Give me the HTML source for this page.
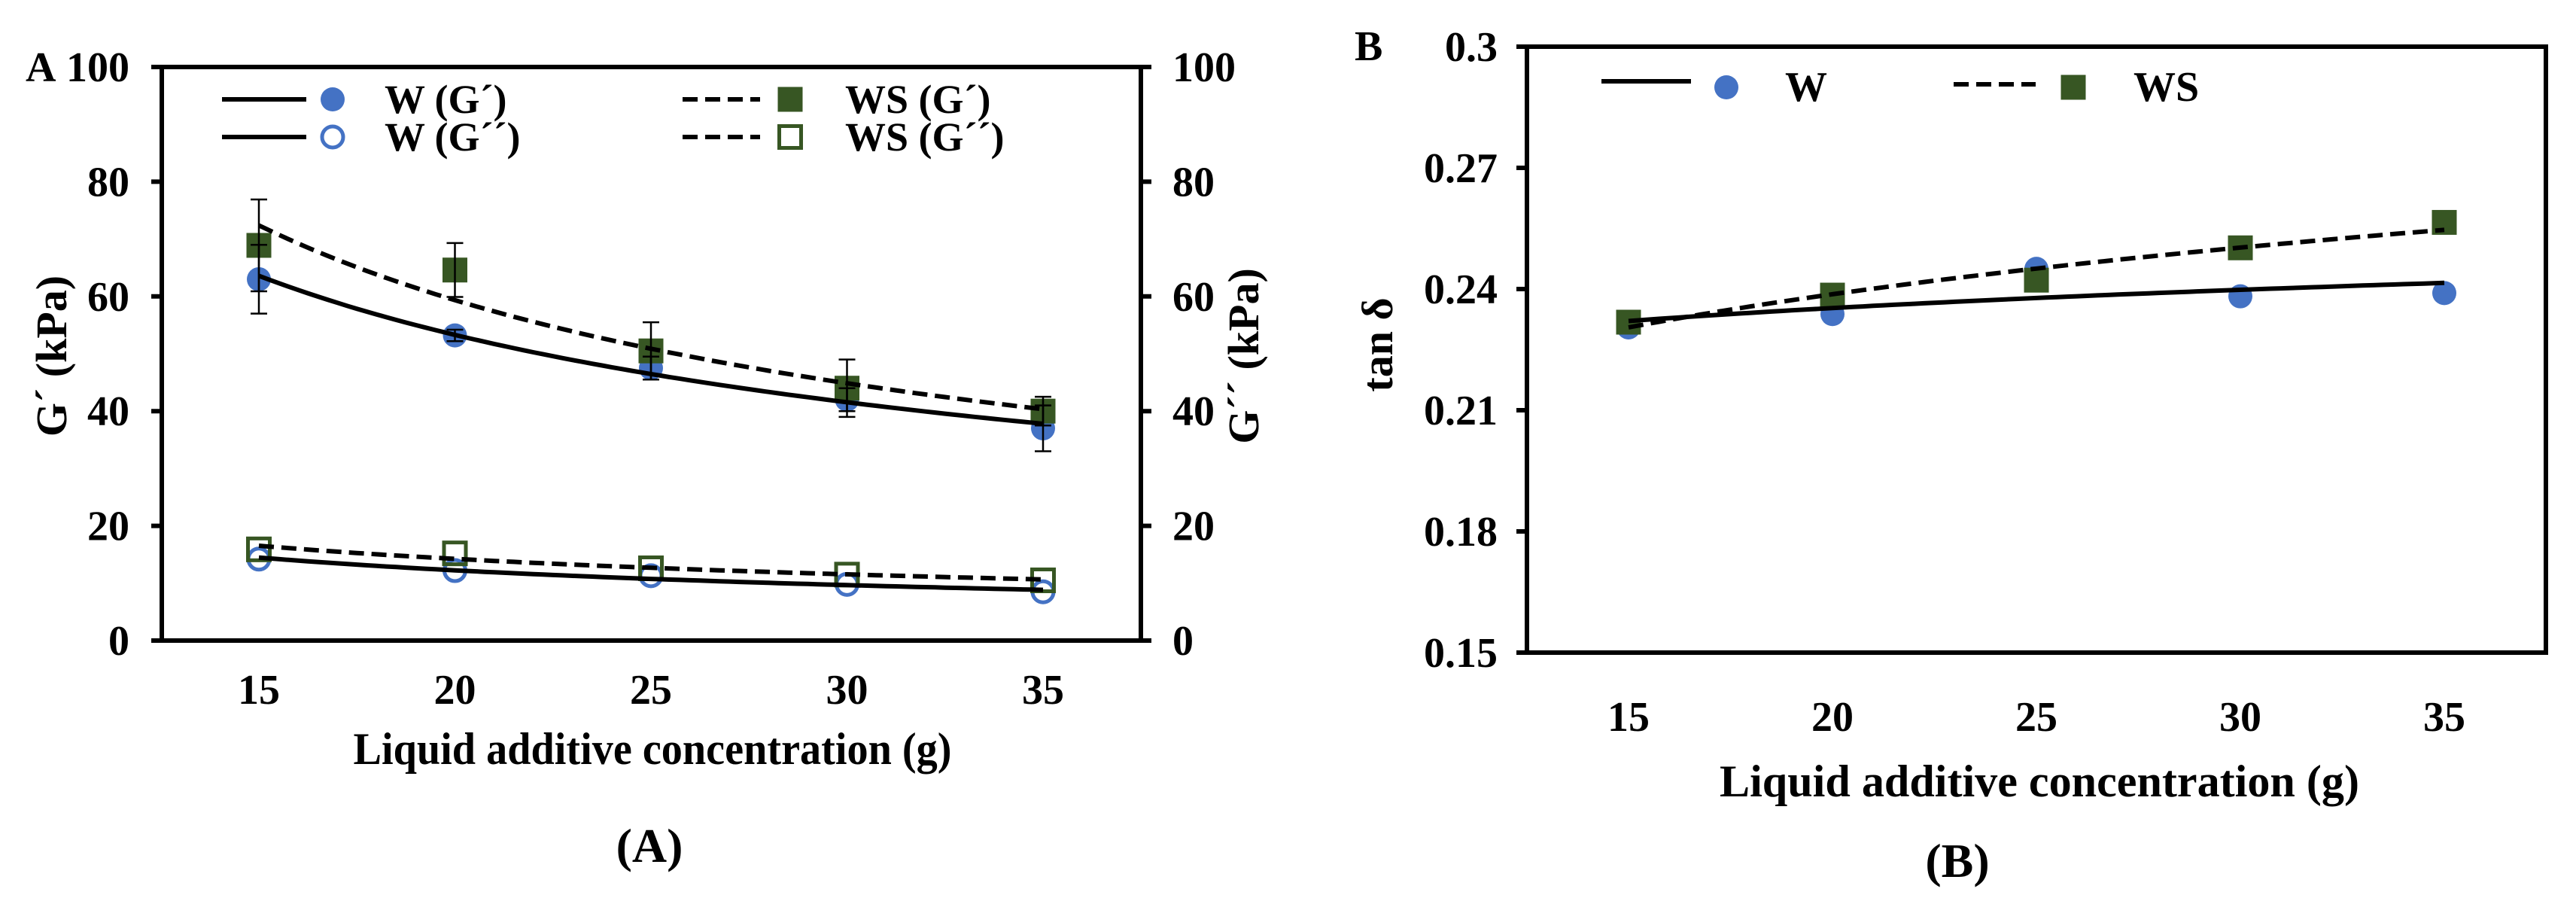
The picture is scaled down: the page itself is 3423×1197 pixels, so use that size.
<!DOCTYPE html>
<html><head><meta charset="utf-8"><style>
html,body{margin:0;padding:0;background:#fff;}
svg{display:block;font-family:"Liberation Serif",serif;font-weight:bold;}
</style></head><body>
<svg id="fig" width="3423" height="1197" viewBox="0 0 3423 1197" xmlns="http://www.w3.org/2000/svg">
<g id="chartA"></g>
<g id="chartB"></g>
</svg>
<script>
// ---------- Chart A data ----------
const xCats = [15, 20, 25, 30, 35];
const aTicks = [0, 20, 40, 60, 80, 100];
const wG1 = [63, 53.2, 47.5, 42, 37];
const wG1Err = [6, 1, 2, 2, 4];
const wsG1 = [68.9, 64.6, 50.5, 44, 40];
const wsG1Err = [8, 4.7, 5, 5, 2.5];
const wG2 = [14.2, 12.2, 11.3, 9.8, 8.5];
const wsG2 = [15.9, 15.2, 12.6, 11.5, 10.5];
// ---------- Chart B data ----------
const bTicks = [0.15, 0.18, 0.21, 0.24, 0.27, 0.3];
const bTickLabels = ["0.15", "0.18", "0.21", "0.24", "0.27", "0.3"];
const wTan = [0.2305, 0.2338, 0.245, 0.2382, 0.239];
const wsTan = [0.2318, 0.2385, 0.2422, 0.2502, 0.2565];

const NS = "http://www.w3.org/2000/svg";
function mk(parent, tag, attrs, text) {
  const e = document.createElementNS(NS, tag);
  for (const k in attrs) e.setAttribute(k, attrs[k]);
  if (text !== undefined) e.textContent = text;
  parent.appendChild(e);
  return e;
}
function powerFit(xs, ys) {
  const lx = xs.map(Math.log), ly = ys.map(Math.log), n = xs.length;
  const mx = lx.reduce((a, b) => a + b) / n, my = ly.reduce((a, b) => a + b) / n;
  let sxy = 0, sxx = 0;
  for (let i = 0; i < n; i++) { sxy += (lx[i] - mx) * (ly[i] - my); sxx += (lx[i] - mx) ** 2; }
  const b = sxy / sxx, a = Math.exp(my - b * mx);
  return x => a * Math.pow(x, b);
}
function logFit(xs, ys) {
  const lx = xs.map(Math.log), n = xs.length;
  const mx = lx.reduce((a, b) => a + b) / n, my = ys.reduce((a, b) => a + b) / n;
  let sxy = 0, sxx = 0;
  for (let i = 0; i < n; i++) { sxy += (lx[i] - mx) * (ys[i] - my); sxx += (lx[i] - mx) ** 2; }
  const b = sxy / sxx, a = my - b * mx;
  return x => a + b * Math.log(x);
}
function curve(g, f, xS, yS, dashed, name) {
  let d = "";
  for (let i = 0; i <= 80; i++) {
    const x = 15 + 20 * i / 80;
    d += (i ? "L" : "M") + xS(x).toFixed(1) + "," + yS(f(x)).toFixed(1);
  }
  const p = mk(g, "path", {d, fill: "none", stroke: "#000", "stroke-width": 6, "stroke-dasharray": dashed ? "20,10" : "none"});
  
  
}
function circle(g, cx, cy, filled, name) {
  const c = mk(g, "circle", {cx, cy, r: filled ? 16 : 14, fill: filled ? "#4472c4" : "none", stroke: "#4472c4", "stroke-width": filled ? 0 : 5});
  
  
}
function square(g, cx, cy, filled, name) {
  const s = filled ? 33 : 29;
  const r = mk(g, "rect", {x: cx - s / 2, y: cy - s / 2, width: s, height: s, fill: filled ? "#375623" : "none", stroke: "#375623", "stroke-width": filled ? 0 : 5});
  
  
}
function errBar(g, cx, y1, y2, name) {
  const e = mk(g, "path", {d: `M${cx},${y1}V${y2}M${cx - 11},${y1}H${cx + 11}M${cx - 11},${y2}H${cx + 11}`, stroke: "#000", "stroke-width": 2.5, fill: "none"});
  
  
}

// ---------- Chart A ----------
(function () {
  const g = document.getElementById("chartA");
  const L = 215, R = 1516, T = 89, B = 851;
  const xS = v => 344 + (v - 15) * (1386 - 344) / 20;
  const yS = v => B - v * (B - T) / 100;
  const frame = mk(g, "rect", {x: L, y: T, width: R - L, height: B - T, fill: "none", stroke: "#000", "stroke-width": 6});
  
  
  aTicks.forEach(t => {
    const y = yS(t);
    mk(g, "path", {d: `M${L - 14},${y}H${L}M${R},${y}H${R + 14}`, stroke: "#000", "stroke-width": 6});
    const lt = mk(g, "text", {x: 172, y: y + 19, "text-anchor": "end", "font-size": 56}, String(t));
    
    
    const rt = mk(g, "text", {x: 1558, y: y + 19, "text-anchor": "start", "font-size": 56}, String(t));
    
    
  });
  xCats.forEach(c => {
    const xt = mk(g, "text", {x: xS(c), y: 935, "text-anchor": "middle", "font-size": 56}, String(c));
    
    
  });
  const pl = mk(g, "text", {x: 34, y: 108, "font-size": 56}, "A");
  
  
  const xt = mk(g, "text", {x: 867, y: 1015, "text-anchor": "middle", "font-size": 60, textLength: 795, lengthAdjust: "spacingAndGlyphs"}, "Liquid additive concentration (g)");
  
  
  const yt = mk(g, "text", {transform: "translate(88,473) rotate(-90)", "text-anchor": "middle", "font-size": 58}, "G\u00b4 (kPa)");
  
  
  const yt2 = mk(g, "text", {transform: "translate(1672,473) rotate(-90)", "text-anchor": "middle", "font-size": 58}, "G\u00b4\u00b4 (kPa)");
  
  
  const cap = mk(g, "text", {x: 863, y: 1145, "text-anchor": "middle", "font-size": 64}, "(A)");
  
  
  const leg = [
    [132, false, true, true, "W (G\u00b4)", 295, 407, 442, 511],
    [182, false, false, true, "W (G\u00b4\u00b4)", 295, 407, 442, 511],
    [132, true, true, false, "WS (G\u00b4)", 907, 1010, 1050, 1123],
    [182, true, false, false, "WS (G\u00b4\u00b4)", 907, 1010, 1050, 1123]
  ];
  leg.forEach(l => {
    const [y, dashed, filled, isCircle, label, x1, x2, mx, tx] = l;
    const ln = mk(g, "path", {d: `M${x1},${y}H${x2}`, stroke: "#000", "stroke-width": 6, "stroke-dasharray": dashed ? "20,10" : "none"});
    
    
    if (isCircle) circle(g, mx, y, filled, 'legend-marker'); else square(g, mx, y, filled, 'legend-marker');
    const t = mk(g, "text", {x: tx, y: y + 18, "font-size": 54}, label);
    
    
  });
  xCats.forEach((c, i) => { circle(g, xS(c), yS(wG2[i]), false, 'w-g2-point'); });
  xCats.forEach((c, i) => { square(g, xS(c), yS(wsG2[i]), false, 'ws-g2-point'); });
  xCats.forEach((c, i) => { circle(g, xS(c), yS(wG1[i]), true, 'w-g1-point'); });
  xCats.forEach((c, i) => { square(g, xS(c), yS(wsG1[i]), true, 'ws-g1-point'); });
  xCats.forEach((c, i) => { errBar(g, xS(c), yS(wG1[i] - wG1Err[i]), yS(wG1[i] + wG1Err[i]), 'w-g1-error-bar'); });
  xCats.forEach((c, i) => { errBar(g, xS(c), yS(wsG1[i] - wsG1Err[i]), yS(wsG1[i] + wsG1Err[i]), 'ws-g1-error-bar'); });
  curve(g, powerFit(xCats, wG1), xS, yS, false, 'w-g1-trendline');
  curve(g, powerFit(xCats, wsG1), xS, yS, true, 'ws-g1-trendline');
  curve(g, powerFit(xCats, wG2), xS, yS, false, 'w-g2-trendline');
  curve(g, powerFit(xCats, wsG2), xS, yS, true, 'ws-g2-trendline');
})();

// ---------- Chart B ----------
(function () {
  const g = document.getElementById("chartB");
  const L = 2029, R = 3383, T = 62, B = 867;
  const xS = v => 2164 + (v - 15) * (3248 - 2164) / 20;
  const yS = v => B - (v - 0.15) * (B - T) / 0.15;
  const frame = mk(g, "rect", {x: L, y: T, width: R - L, height: B - T, fill: "none", stroke: "#000", "stroke-width": 6});
  
  
  bTicks.forEach((t, i) => {
    const y = yS(t);
    mk(g, "path", {d: `M${L - 14},${y}H${L}`, stroke: "#000", "stroke-width": 6});
    const lt = mk(g, "text", {x: 1990, y: y + 19, "text-anchor": "end", "font-size": 56}, bTickLabels[i]);
    
    
  });
  xCats.forEach(c => {
    const xt = mk(g, "text", {x: xS(c), y: 971, "text-anchor": "middle", "font-size": 56}, String(c));
    
    
  });
  const pl = mk(g, "text", {x: 1800, y: 80, "font-size": 56}, "B");
  
  
  const xt = mk(g, "text", {x: 2710, y: 1058, "text-anchor": "middle", "font-size": 60, textLength: 850, lengthAdjust: "spacingAndGlyphs"}, "Liquid additive concentration (g)");
  
  
  const yt = mk(g, "text", {transform: "translate(1850,458) rotate(-90)", "text-anchor": "middle", "font-size": 58}, "tan \u03b4");
  
  
  const cap = mk(g, "text", {x: 2601, y: 1165, "text-anchor": "middle", "font-size": 64}, "(B)");
  
  
  const l1 = mk(g, "path", {d: "M2128,108H2247", stroke: "#000", "stroke-width": 6});
  
  
  circle(g, 2294, 116, true, 'legend-marker-w');
  const t1 = mk(g, "text", {x: 2372, y: 134, "font-size": 56}, "W");
  
  
  const l2 = mk(g, "path", {d: "M2596,112H2705", stroke: "#000", "stroke-width": 6, "stroke-dasharray": "20,10"});
  
  
  square(g, 2755, 116, true, 'legend-marker-ws');
  const t2 = mk(g, "text", {x: 2835, y: 134, "font-size": 56}, "WS");
  
  
  xCats.forEach((c, i) => { circle(g, xS(c), yS(wTan[i]), true, 'w-tan-point'); });
  xCats.forEach((c, i) => { square(g, xS(c), yS(wsTan[i]), true, 'ws-tan-point'); });
  curve(g, logFit(xCats, wTan), xS, yS, false, 'w-tan-trendline');
  curve(g, logFit(xCats, wsTan), xS, yS, true, 'ws-tan-trendline');
})();
</script>
</body></html>
